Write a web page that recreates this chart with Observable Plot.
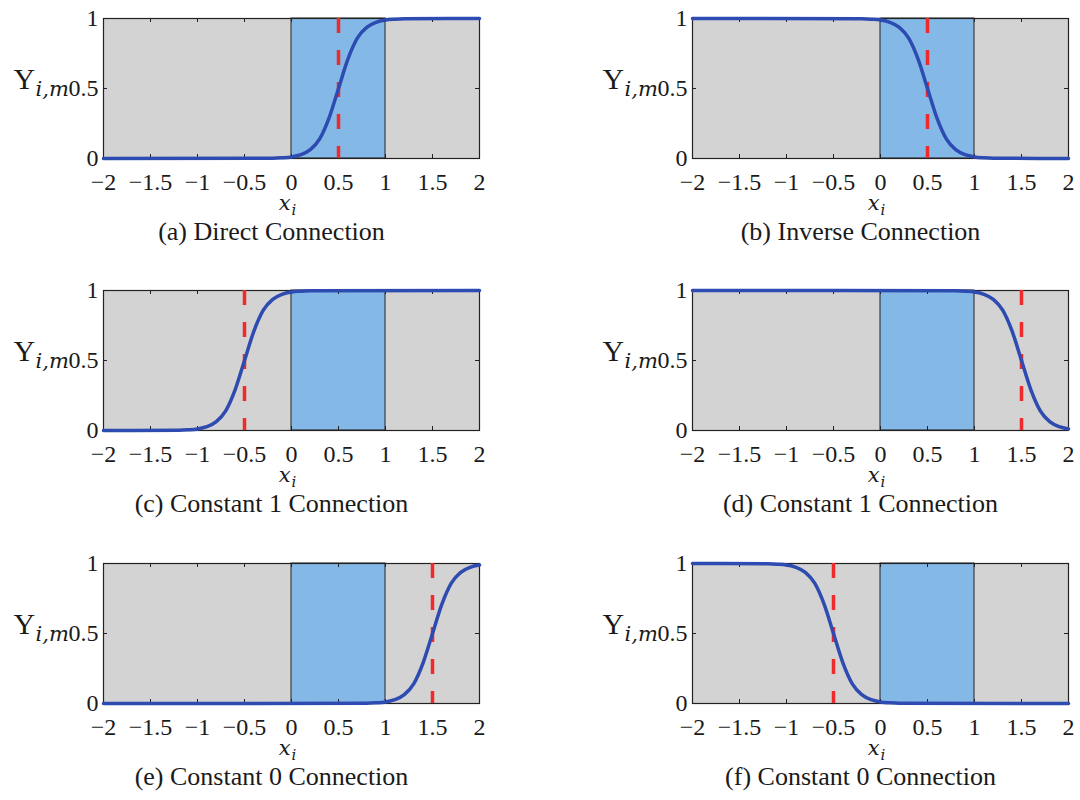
<!DOCTYPE html>
<html><head><meta charset="utf-8">
<script src="https://cdn.jsdelivr.net/npm/d3@7"></script>
<script src="https://cdn.jsdelivr.net/npm/@observablehq/plot@0.6"></script>
<style>
html,body{margin:0;padding:0;background:#fff;width:1080px;height:800px;overflow:hidden;}
#root{position:relative;width:1080px;height:800px;}
.panel{position:absolute;}
</style></head><body><div id="root"></div>
<script>
// ---- data ----
const xTicks = [-2, -1.5, -1, -0.5, 0, 0.5, 1, 1.5, 2];
const yTicks = [0, 0.5, 1];
const activeRange = [0, 1];
const captions = [
  "(a) Direct Connection", "(b) Inverse Connection",
  "(c) Constant 1 Connection", "(d) Constant 1 Connection",
  "(e) Constant 0 Connection", "(f) Constant 0 Connection"
];
const thresholds = [0.5, 0.5, -0.5, 1.5, 1.5, -0.5];

const curveAx = [-2, -0.2, -0.1, 0, 0.1, 0.2, 0.3, 0.4, 0.5, 0.6, 0.7, 0.8, 0.9, 1, 1.1, 1.2, 2];
const curveAy = [0, 0.002, 0.005, 0.011, 0.027, 0.063, 0.14, 0.29, 0.5, 0.71, 0.86, 0.937, 0.973, 0.989, 0.995, 0.998, 1];
const curveBx = [-2, -0.2, -0.1, 0, 0.1, 0.2, 0.3, 0.4, 0.5, 0.6, 0.7, 0.8, 0.9, 1, 1.1, 1.2, 2];
const curveBy = [1, 0.998, 0.995, 0.989, 0.973, 0.937, 0.86, 0.71, 0.5, 0.29, 0.14, 0.063, 0.027, 0.011, 0.005, 0.002, 0];
const curveCx = [-2, -1.2, -1.1, -1, -0.9, -0.8, -0.7, -0.6, -0.5, -0.4, -0.3, -0.2, -0.1, 0, 0.1, 0.2, 2];
const curveCy = [0, 0.002, 0.005, 0.011, 0.027, 0.063, 0.14, 0.29, 0.5, 0.71, 0.86, 0.937, 0.973, 0.989, 0.995, 0.998, 1];
const curveDx = [-2, 0.8, 0.9, 1, 1.1, 1.2, 1.3, 1.4, 1.5, 1.6, 1.7, 1.8, 1.9, 2];
const curveDy = [1, 0.998, 0.995, 0.989, 0.973, 0.937, 0.86, 0.71, 0.5, 0.29, 0.14, 0.063, 0.027, 0.011];
const curveEx = [-2, 0.8, 0.9, 1, 1.1, 1.2, 1.3, 1.4, 1.5, 1.6, 1.7, 1.8, 1.9, 2];
const curveEy = [0, 0.002, 0.005, 0.011, 0.027, 0.063, 0.14, 0.29, 0.5, 0.71, 0.86, 0.937, 0.973, 0.989];
const curveFx = [-2, -1.2, -1.1, -1, -0.9, -0.8, -0.7, -0.6, -0.5, -0.4, -0.3, -0.2, -0.1, 0, 0.1, 0.2, 2];
const curveFy = [1, 0.998, 0.995, 0.989, 0.973, 0.937, 0.86, 0.71, 0.5, 0.29, 0.14, 0.063, 0.027, 0.011, 0.005, 0.002, 0];

const curvesX = [curveAx, curveBx, curveCx, curveDx, curveEx, curveFx];
const curvesY = [curveAy, curveBy, curveCy, curveDy, curveEy, curveFy];

// ---- drawing ----
const fmt = d => d < 0 ? "\u2212" + (-d) : String(d);
const serif = "'Liberation Serif', 'Times New Roman', serif";
const mathFont = "'DejaVu Serif', serif";
const rowTops = [0, 272, 545];
const root = document.getElementById("root");

captions.forEach((cap, k) => {
  const col = k % 2, row = Math.floor(k / 2);
  const data = curvesX[k].map((x, i) => ({x, y: curvesY[k][i]}));
  const plotW = 376;
  const chart = Plot.plot({
    width: 540, height: 255,
    marginLeft: col === 0 ? 103 : 152,
    marginRight: col === 0 ? 61 : 12,
    marginTop: 18, marginBottom: 97,
    x: {domain: [-2, 2], label: null},
    y: {domain: [0, 1], label: null},
    style: {fontFamily: serif, color: "#1a1a1a", background: "transparent", overflow: "visible"},
    marks: [
      Plot.frame({fill: "#d3d3d3"}),
      Plot.rect([activeRange], {x1: d => d[0], x2: d => d[1], fill: "#84b9e7", stroke: "#222", strokeWidth: 1}),
      Plot.ruleX(xTicks, {stroke: "#222", insetTop: 136}),
      Plot.ruleX(xTicks, {stroke: "#222", insetBottom: 136}),
      Plot.ruleY(yTicks, {stroke: "#222", insetRight: plotW - 4}),
      Plot.ruleY(yTicks, {stroke: "#222", insetLeft: plotW - 4}),
      Plot.frame({stroke: "#222", strokeWidth: 1.2}),
      Plot.ruleX([thresholds[k]], {stroke: "#ee2a2a", strokeWidth: 3.5, strokeDasharray: "15,17"}),
      Plot.line(data, {x: "x", y: "y", stroke: "#2d4bb0", strokeWidth: 3.5, curve: "monotone-x"}),
      Plot.axisX(xTicks, {tickSize: 0, tickPadding: 14, fontSize: 24, tickFormat: fmt, label: null}),
      Plot.axisY(yTicks, {tickSize: 0, tickPadding: 5, fontSize: 24, tickFormat: fmt, label: null}),
      Plot.text(["Y"], {text: d => d, frameAnchor: "left", dx: -90, dy: 0, lineAnchor: "bottom", textAnchor: "start", fontSize: 30}),
      Plot.text(["i,m"], {text: d => d, frameAnchor: "left", dx: -68, dy: 7, lineAnchor: "bottom", textAnchor: "start", fontSize: 21, fontStyle: "italic", fontFamily: mathFont}),
      Plot.text(["x"], {text: d => d, frameAnchor: "bottom", dx: -1, dy: 51, lineAnchor: "bottom", textAnchor: "end", fontSize: 21, fontStyle: "italic", fontFamily: mathFont}),
      Plot.text(["i"], {text: d => d, frameAnchor: "bottom", dx: 0, dy: 56, lineAnchor: "bottom", textAnchor: "start", fontSize: 15, fontStyle: "italic", fontFamily: mathFont}),
      Plot.text([cap], {text: d => d, frameAnchor: "bottom", dx: -20, dy: 81, lineAnchor: "bottom", textAnchor: "middle", fontSize: 26})
    ]
  });
  const div = document.createElement("div");
  div.className = "panel";
  div.style.left = (col * 540) + "px";
  div.style.top = rowTops[row] + "px";
  div.appendChild(chart);
  root.appendChild(div);
});
</script>
</body></html>
